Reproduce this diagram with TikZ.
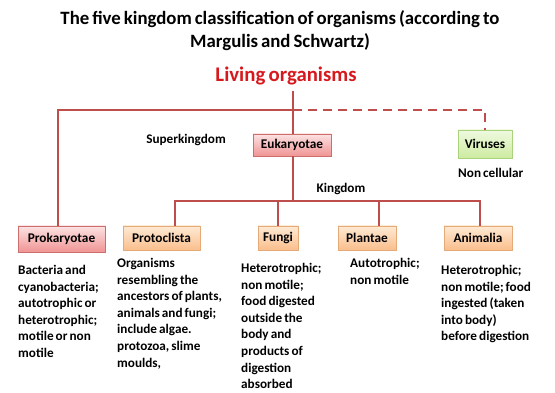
\documentclass[tikz,border=0pt]{standalone}
\usepackage{fontspec}
\setmainfont{Carlito}[WordSpace=0.7]
\definecolor{linec}{RGB}{190,78,75}
\definecolor{livred}{RGB}{215,25,30}
\definecolor{pinkT}{RGB}{252,226,226}
\definecolor{pinkB}{RGB}{240,148,148}
\definecolor{pinkD}{RGB}{205,110,110}
\definecolor{oraT}{RGB}{254,234,212}
\definecolor{oraB}{RGB}{250,190,140}
\definecolor{oraD}{RGB}{228,170,120}
\definecolor{grnT}{RGB}{240,250,225}
\definecolor{grnB}{RGB}{205,235,160}
\definecolor{grnD}{RGB}{170,210,125}
\tikzset{
  x=1pt,y=-1pt,
  conn/.style={draw=linec,line width=1.8pt},
  boxbase/.style={rectangle,inner sep=0pt,font=\fontsize{13.3}{15}\selectfont\bfseries,line width=0.8pt},
  pinkbox/.style={boxbase,draw=pinkD,top color=pinkT,bottom color=pinkB},
  orabox/.style={boxbase,draw=oraD,top color=oraT,bottom color=oraB},
  grnbox/.style={boxbase,draw=grnD,top color=grnT,bottom color=grnB},
  desc/.style={anchor=north west,inner sep=0pt,align=left,font=\fontsize{13.2}{16.6}\selectfont\bfseries},
  lbl/.style={inner sep=0pt,font=\fontsize{13.2}{15}\selectfont\bfseries}
}
\begin{document}
\begin{tikzpicture}
\useasboundingbox (0,0) rectangle (555,393);
\fill[white] (0,0) rectangle (555,393);
% titles
\node[inner sep=0pt,align=center,font=\fontsize{18.8}{23}\selectfont\bfseries] (title) at (280,31)
  {The five kingdom classification of organisms (according to\\Margulis and Schwartz)};
\node[inner sep=0pt,text=livred,font=\fontsize{20.8}{22}\selectfont\bfseries] (living) at (286,76) {Living organisms};
% boxes
\node[pinkbox,minimum width=78pt,minimum height=22pt] (euk) at (292,145) {Eukaryotae};
\node[grnbox,minimum width=54pt,minimum height=28pt] (vir) at (485,144) {Viruses};
\node[pinkbox,minimum width=87pt,minimum height=26pt] (prok) at (61.5,239) {Prokaryotae};
\node[orabox,minimum width=77pt,minimum height=24pt] (proto) at (161.5,238) {Protoclista};
\node[orabox,minimum width=40pt,minimum height=24pt] (fungi) at (278,238) {Fungi};
\node[orabox,minimum width=58pt,minimum height=24pt] (plant) at (367,238) {Plantae};
\node[orabox,minimum width=68pt,minimum height=24pt] (anim) at (478,238) {Animalia};
% labels
\node[lbl] (super) at (186,140) {Superkingdom};
\node[lbl] (king) at (341,189) {Kingdom};
\node[lbl,anchor=west] (noncell) at (458,173) {Non cellular};
% descriptions
\node[desc] (dprok) at (18,265) {Bacteria and\\cyanobacteria;\\autotrophic or\\heterotrophic;\\motile or non\\motile};
\node[desc] (dproto) at (117,258) {Organisms\\resembling the\\ancestors of plants,\\animals and fungi;\\include algae.\\protozoa, slime\\moulds,};
\node[desc] (dfungi) at (241,263) {Heterotrophic;\\non motile;\\food digested\\outside the\\body and\\products of\\digestion\\absorbed};
\node[desc] (dplant) at (350,258) {Autotrophic;\\non motile};
\node[desc] (danim) at (441,265) {Heterotrophic;\\non motile; food\\ingested (taken\\into body)\\before digestion};
% connectors
\coordinate (J) at (293,110);
\coordinate (K) at (293,201);
\coordinate (L) at (293,91);
\draw[conn] (L) -- (J) -- ([xshift=1pt]euk.north);
\draw[conn] (J) -| ([xshift=-3.5pt]prok.north);
\draw[conn,dashed,dash pattern=on 9pt off 6pt] (J) -| (vir.north);
\draw[conn] ([xshift=1pt]euk.south) -- (K);
\draw[conn] ([xshift=13.5pt]proto.north) |- (K) -| ([xshift=2pt]anim.north);
\draw[conn] (fungi.north) -- (fungi.north |- K);
\draw[conn] ([xshift=12pt]plant.north) -- ([xshift=12pt]plant.north |- K);
\end{tikzpicture}
\end{document}
